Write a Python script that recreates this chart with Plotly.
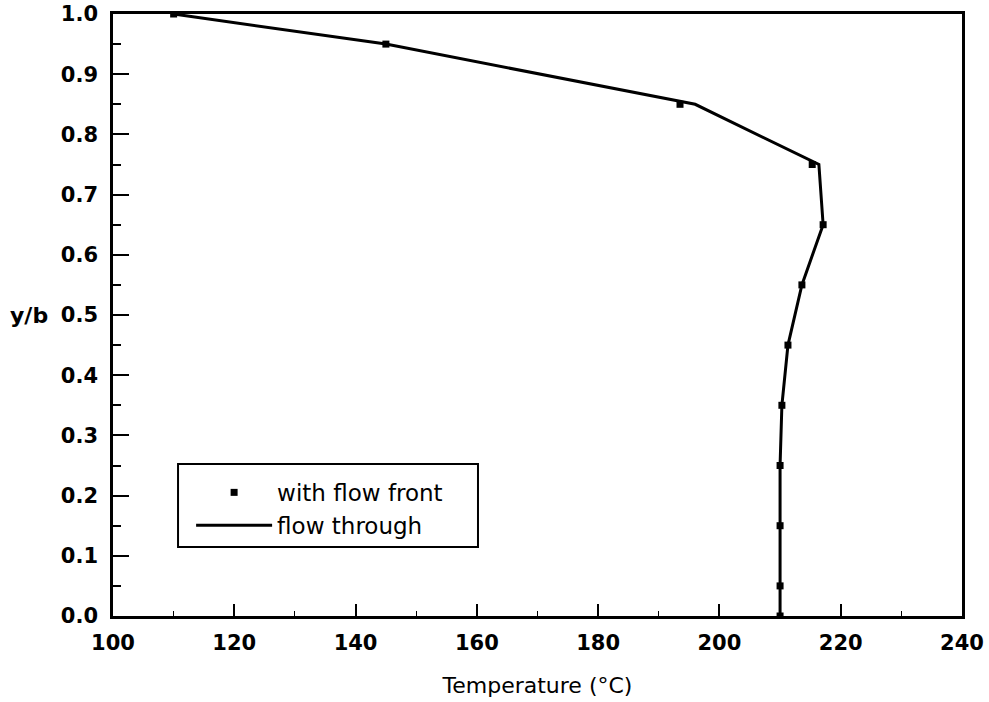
import plotly.graph_objects as go

# Data
marker_T = [110, 145, 193.5, 215.3, 217.1, 213.6, 211.3, 210.3, 210.0, 210.0, 210.0, 210.0]
marker_y = [1.0, 0.95, 0.85, 0.75, 0.65, 0.55, 0.45, 0.35, 0.25, 0.15, 0.05, 0.0]

line_T = [110, 145, 196.0, 216.4, 217.1, 213.6, 211.3, 210.3, 210.0, 210.0, 210.0, 210.0]
line_y = [1.0, 0.95, 0.85, 0.75, 0.65, 0.55, 0.45, 0.35, 0.25, 0.15, 0.05, 0.0]

x_ticks = [100, 120, 140, 160, 180, 200, 220, 240]
y_ticks = [0.0, 0.1, 0.2, 0.3, 0.4, 0.5, 0.6, 0.7, 0.8, 0.9, 1.0]

FONT = "DejaVu Sans, Liberation Sans, Arial, sans-serif"

fig = go.Figure()
fig.add_trace(go.Scatter(
    x=marker_T, y=marker_y, mode="markers", name="with flow front",
    marker=dict(symbol="square", size=7, color="black"),
))
fig.add_trace(go.Scatter(
    x=line_T, y=line_y, mode="lines", name="flow through",
    line=dict(color="black", width=3),
))

fig.update_layout(
    width=989, height=702,
    margin=dict(l=113, r=27, t=14, b=86),
    paper_bgcolor="white", plot_bgcolor="white",
    font=dict(family=FONT, size=20, color="black"),
    showlegend=True,
    legend=dict(
        x=0.092, y=0.241, xanchor="left", yanchor="top",
        borderwidth=0, bgcolor="rgba(0,0,0,0)",
        font=dict(family=FONT, size=23, color="black"),
        itemwidth=76, tracegroupgap=0,
    ),
)

# legend frame
fig.add_shape(
    type="rect", xref="paper", yref="paper",
    x0=0.0766, x1=0.4299, y0=0.1146, y1=0.2525,
    line=dict(color="black", width=2), fillcolor="rgba(0,0,0,0)", layer="above",
)

fig.update_xaxes(
    range=[100, 240], tickvals=x_ticks,
    showgrid=False, zeroline=False, automargin=False,
    showline=True, linecolor="black", linewidth=2.5, mirror=True,
    ticks="inside", ticklen=12, tickwidth=1.5, tickcolor="black",
    minor=dict(dtick=10, tick0=100, ticks="inside", ticklen=5, tickwidth=1, tickcolor="black"),
    tickfont=dict(family=FONT, size=21, weight="bold"),
    ticklabelstandoff=6,
    title=dict(text="Temperature (°C)", font=dict(family=FONT, size=22), standoff=24),
)
fig.update_yaxes(
    range=[0, 1.0], tickvals=y_ticks, tickformat=".1f",
    showgrid=False, zeroline=False, automargin=False,
    showline=True, linecolor="black", linewidth=2.5, mirror=True,
    ticks="inside", ticklen=16, tickwidth=2, tickcolor="black",
    minor=dict(dtick=0.05, tick0=0, ticks="inside", ticklen=8, tickwidth=1.5, tickcolor="black"),
    tickfont=dict(family=FONT, size=21, weight="bold"),
    ticklabelstandoff=8,
)

fig.add_annotation(
    text="y/b", xref="paper", yref="paper", x=-0.074, y=0.5,
    xanchor="right", yanchor="middle", showarrow=False,
    font=dict(family=FONT, size=22, color="black", weight="bold"),
)

fig.write_html("out.html", config={"displayModeBar": False},
               post_script="document.body.style.margin='0px';")
